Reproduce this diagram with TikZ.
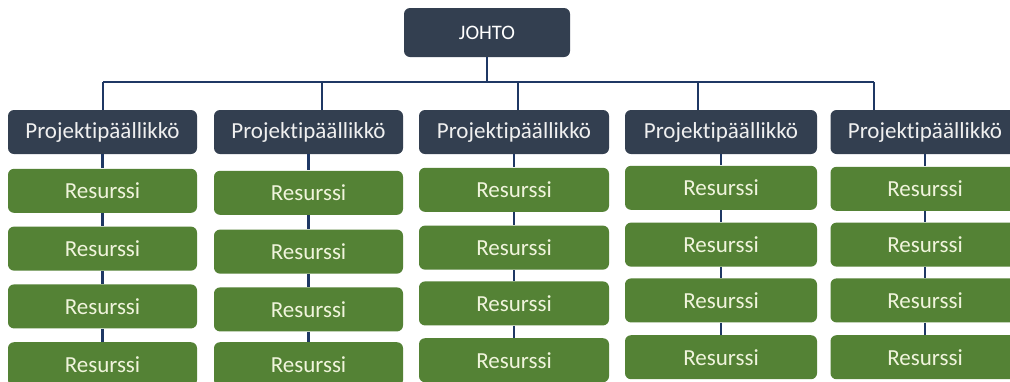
\documentclass[tikz,border=0pt]{standalone}
\usepackage{fontspec}
\setmainfont{Carlito}[Ligatures={NoCommon}]
\usetikzlibrary{positioning}
\definecolor{johtoblue}{HTML}{333F50}
\definecolor{resgreen}{HTML}{548235}
\definecolor{linkblue}{HTML}{1F3864}
\definecolor{restext}{HTML}{F0F4DC}

\begin{document}
\begin{tikzpicture}[
        x=0.5pt, y=-0.5pt,
        lead/.style={rectangle, rounded corners=3pt, fill=johtoblue, text=white, minimum width=83pt, minimum height=24.5pt, inner sep=0pt, font=\fontsize{10.3}{12}\selectfont},
        manager/.style={rectangle, rounded corners=3pt, fill=johtoblue, text=white!94!black, minimum width=94.5pt, minimum height=22pt, inner sep=0pt, font=\fontsize{11.5}{13}\selectfont},
        resource/.style={rectangle, rounded corners=3pt, fill=resgreen, text=restext, minimum width=94.5pt, minimum height=22pt, inner sep=0pt, font=\fontsize{11.5}{13}\selectfont},
        link/.style={draw=linkblue, line width=1.4pt}
    ]

    \clip (0,0) rectangle (1010,381);
    \fill[white] (0,0) rectangle (1010,381);

    % Management
    \node[lead] (johto) at (487,32.5) {JOHTO};

    % Project managers
    \node[manager] (pm1) at (102.5,132) {Projektipäällikkö};
    \node[manager] (pm2) at (308.5,132) {Projektipäällikkö};
    \node[manager, minimum width=95pt] (pm3) at (514,132) {Projektipäällikkö};
    \node[manager, minimum width=96pt] (pm4) at (721,132) {Projektipäällikkö};
    \node[manager] (pm5) at (925,132) {Projektipäällikkö};

    % Branch points on the bar
    \coordinate (t1) at (103,82);
    \coordinate (t2) at (322,82);
    \coordinate (t3) at (518,82);
    \coordinate (t4) at (698,82);
    \coordinate (t5) at (874,82);

    % Resources, column 1
    \node[resource, below=7pt of pm1] (r1a) {Resurssi};
    \node[resource, below=6.5pt of r1a] (r1b) {Resurssi};
    \node[resource, below=6.5pt of r1b] (r1c) {Resurssi};
    \node[resource, below=6.5pt of r1c] (r1d) {Resurssi};

    % Resources, column 2
    \node[resource, below=8pt of pm2] (r2a) {Resurssi};
    \node[resource, below=7pt of r2a] (r2b) {Resurssi};
    \node[resource, below=6.5pt of r2b] (r2c) {Resurssi};
    \node[resource, below=5pt of r2c] (r2d) {Resurssi};

    % Resources, column 3
    \node[resource, minimum width=95pt, below=6.5pt of pm3] (r3a) {Resurssi};
    \node[resource, minimum width=95pt, below=6.5pt of r3a] (r3b) {Resurssi};
    \node[resource, minimum width=95pt, below=5.5pt of r3b] (r3c) {Resurssi};
    \node[resource, minimum width=95pt, below=6pt of r3c] (r3d) {Resurssi};

    % Resources, column 4
    \node[resource, minimum width=96pt, below=5.5pt of pm4] (r4a) {Resurssi};
    \node[resource, minimum width=96pt, below=6pt of r4a] (r4b) {Resurssi};
    \node[resource, minimum width=96pt, below=5.5pt of r4b] (r4c) {Resurssi};
    \node[resource, minimum width=96pt, below=6pt of r4c] (r4d) {Resurssi};

    % Resources, column 5
    \node[resource, below=6pt of pm5] (r5a) {Resurssi};
    \node[resource, below=5.5pt of r5a] (r5b) {Resurssi};
    \node[resource, below=5.5pt of r5b] (r5c) {Resurssi};
    \node[resource, below=6pt of r5c] (r5d) {Resurssi};

    % Top links
    \draw[link] (johto) -- (johto |- t1);
    \draw[link] (t1) -- (t5);
    \draw[link] (t1) -- (t1 |- pm1.north);
    \draw[link] (t2) -- (t2 |- pm2.north);
    \draw[link] (t3) -- (t3 |- pm3.north);
    \draw[link] (t4) -- (t4 |- pm4.north);
    \draw[link] (t5) -- (t5 |- pm5.north);

    % Column links
    \draw[link] (pm1) -- (r1a) (r1a) -- (r1b) (r1b) -- (r1c) (r1c) -- (r1d);
    \draw[link] (pm2) -- (r2a) (r2a) -- (r2b) (r2b) -- (r2c) (r2c) -- (r2d);
    \draw[link] (pm3) -- (r3a) (r3a) -- (r3b) (r3b) -- (r3c) (r3c) -- (r3d);
    \draw[link] (pm4) -- (r4a) (r4a) -- (r4b) (r4b) -- (r4c) (r4c) -- (r4d);
    \draw[link] (pm5) -- (r5a) (r5a) -- (r5b) (r5b) -- (r5c) (r5c) -- (r5d);

\end{tikzpicture}
\end{document}
